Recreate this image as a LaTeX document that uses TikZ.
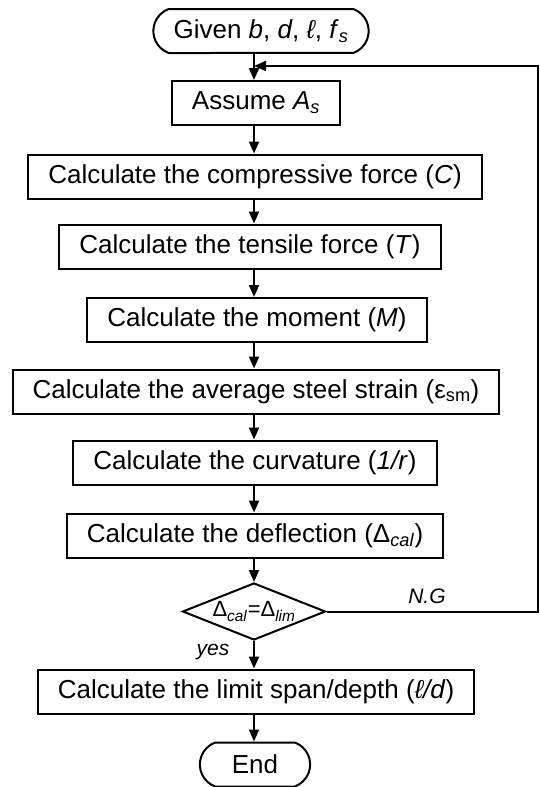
\documentclass[tikz,border=0pt]{standalone}
\usepackage{fontspec}
\setmainfont{Liberation Sans}
\usetikzlibrary{shapes.geometric, shapes.misc, arrows.meta, positioning, calc}

\tikzset{
  process/.style={draw, line width=2pt, minimum height=44pt, inner xsep=20pt, inner ysep=0pt, font=\fontsize{26}{30}\selectfont},
  terminal/.style={draw, line width=2pt, rounded rectangle, rounded rectangle arc length=140, minimum height=44pt, inner ysep=0pt, font=\fontsize{26}{30}\selectfont},
  decision/.style={draw, line width=2pt, diamond, aspect=2.5, minimum width=143pt, minimum height=57pt, inner sep=0pt, font=\fontsize{22}{24}\selectfont},
  flow/.style={line width=2pt, -{Triangle[length=12pt, width=10pt]}},
  lbl/.style={font=\fontsize{21}{24}\selectfont\itshape}
}

\begin{document}
\begin{tikzpicture}[x=1pt, y=-1pt]
    \useasboundingbox (0,0) rectangle (540,787);

    % main chain
    \node[terminal, minimum width=222pt] (given) at (261,31) {Given \textit{b}, \textit{d}, \textit{ℓ}, \textit{f}\textsubscript{\textit{s}}};
    \node[process] (assume) at (256,103) {Assume \textit{A}\textsubscript{\textit{s}}};
    \node[process] (compr) at (255,176.5) {Calculate the compressive force (\textit{C})};
    \node[process] (tens) at (250,246.5) {Calculate the tensile force (\textit{T})};
    \node[process] (moment) at (257,320) {Calculate the moment (\textit{M})};
    \node[process] (strain) at (256,391.5) {Calculate the average steel strain (ε\textsubscript{sm})};
    \node[process] (curv) at (255,462.5) {Calculate the curvature (\textit{1/r})};
    \node[process] (defl) at (255,535.5) {Calculate the deflection (Δ\textsubscript{\textit{cal}})};
    \node[decision] (check) at (254,611.5) {Δ\textsubscript{\textit{cal}}=Δ\textsubscript{\textit{lim}}};
    \node[process] (span) at (256,691.5) {Calculate the limit span/depth (\textit{ℓ/d})};
    \node[terminal, minimum width=117pt] (stop) at (255,764.5) {End};

    \coordinate (join) at (254,66);
    \coordinate (back) at (538,66);

    \draw[flow] (given.south -| join) -- (assume.north -| join);
    \foreach \a/\b in {assume/compr, compr/tens, tens/moment, moment/strain, strain/curv, curv/defl, defl/check, check/span, span/stop}
      \draw[flow] (\a.south -| join) -- (\b.north -| join);

    % loop back
    \draw[flow] (check.east) -- (check.east -| back) -- (back) -- (join);

    \node[lbl] (ng) at (427,596) {N.G};
    \node[lbl] (yes) at (213,652) {yes};
\end{tikzpicture}
\end{document}
